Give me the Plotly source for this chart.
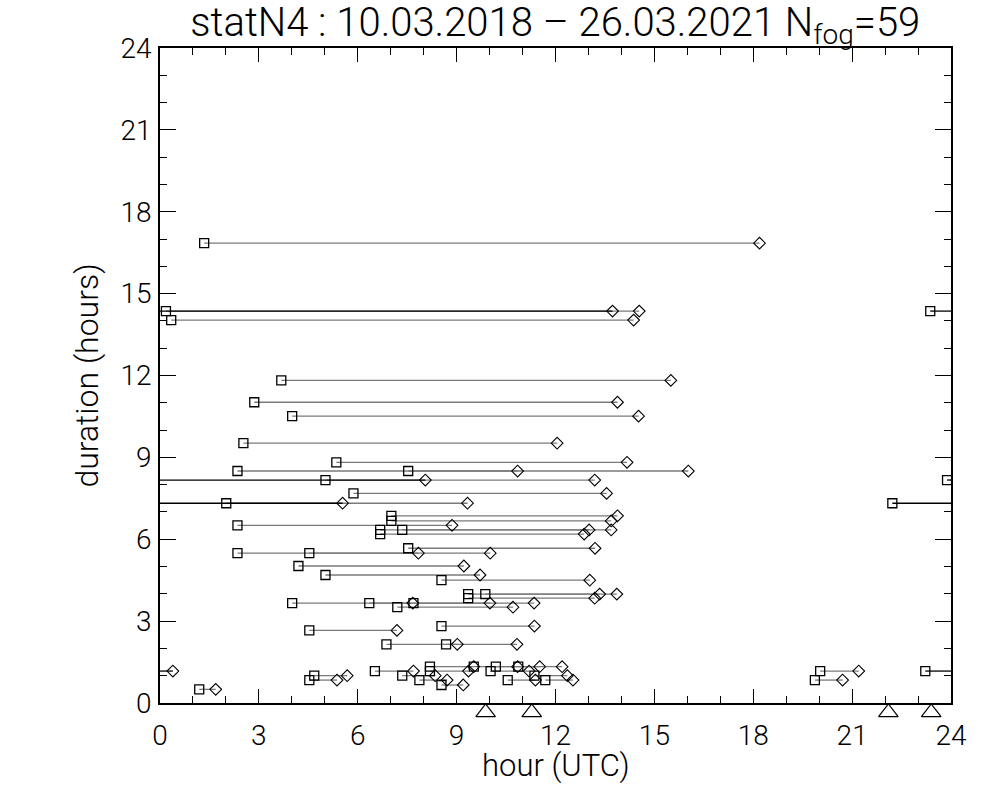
import plotly.graph_objects as go

# fog events: start hour (UTC) and duration (hours)
start = [1.34, 0.18, 0.34, 23.37, 3.68, 2.86, 4.01, 2.53, 5.35, 2.35,
         7.53, 5.02, 23.88, 5.87, 2.01, 22.22, 7.02, 7.02, 2.35, 6.68,
         7.35, 6.68, 7.53, 2.35, 4.53, 4.20, 5.02, 8.54, 9.35, 9.87,
         9.35, 4.01, 6.35, 7.69, 7.20, 8.54, 4.53, 6.87, 8.68, 8.19,
         9.52, 10.19, 10.87, 6.52, 8.19, 10.03, 20.03, 23.22, 4.68, 7.35,
         11.36, 4.53, 7.87, 10.55, 11.69, 19.87, 8.54, 1.19]
duration = [16.85, 14.36, 14.03, 14.36, 11.82, 11.02, 10.51, 9.52, 8.82, 8.50,
            8.50, 8.17, 8.17, 7.68, 7.32, 7.32, 6.86, 6.67, 6.51, 6.34,
            6.34, 6.19, 5.67, 5.49, 5.49, 5.02, 4.69, 4.50, 3.99, 3.99,
            3.84, 3.66, 3.66, 3.66, 3.51, 2.82, 2.66, 2.15, 2.15, 1.33,
            1.33, 1.33, 1.33, 1.17, 1.17, 1.17, 1.17, 1.17, 1.00, 1.00,
            1.00, 0.84, 0.84, 0.84, 0.84, 0.84, 0.66, 0.50]
# reference hours marked below the axis
marks = [9.88, 11.28, 22.1, 23.4]

title = "statN4 : 10.03.2018 \u2013 26.03.2021 N<sub>fog</sub>=59"
xtitle = "hour (UTC)"
ytitle = "duration (hours)"

end = [(s + d) % 24 for s, d in zip(start, duration)]

gx, gy, bx, by = [], [], [], []
for s, d, e in zip(start, duration, end):
    if s + d <= 24:
        gx += [s, s + d, None]
        gy += [d, d, None]
    else:
        bx += [s, 24, None, 0, e, None]
        by += [d, d, None, d, d, None]

fig = go.Figure()
fig.add_trace(go.Scatter(x=gx, y=gy, mode="lines",
                         line=dict(color="#7a7a7a", width=1.3), hoverinfo="skip"))
fig.add_trace(go.Scatter(x=bx, y=by, mode="lines",
                         line=dict(color="black", width=1.3), hoverinfo="skip"))
fig.add_trace(go.Scatter(x=start, y=duration, mode="markers",
                         marker=dict(symbol="square-open", size=9, color="black",
                                     line=dict(width=1.3, color="black"))))
fig.add_trace(go.Scatter(x=end, y=duration, mode="markers",
                         marker=dict(symbol="diamond-open", size=9, color="black",
                                     line=dict(width=1.1, color="black"))))
# triangles in a thin strip just below the main axis
fig.add_trace(go.Scatter(x=marks, y=[0.65] * len(marks), mode="markers",
                         xaxis="x", yaxis="y2", cliponaxis=False,
                         marker=dict(symbol="triangle-up-open", size=17, color="black",
                                     line=dict(width=1.2, color="black"))))

font_fam = "Roboto, Liberation Sans, sans-serif"

plot_top, plot_bottom, axis_y = 48, 730, 703
dom0 = (plot_bottom - axis_y) / (plot_bottom - plot_top)

fig.update_layout(
    width=1000, height=800,
    margin=dict(l=160, r=49, t=plot_top, b=800 - plot_bottom, autoexpand=False),
    paper_bgcolor="white", plot_bgcolor="white",
    showlegend=False,
    font=dict(family=font_fam, size=28, color="black", weight=300),
    title=dict(text=title, x=0.5553, xanchor="center", y=0.973, yanchor="middle",
               xref="container", yref="container",
               font=dict(family=font_fam, size=40, color="black", weight=300)),
    yaxis2=dict(domain=[0, dom0], range=[0, 1], visible=False, anchor="x",
                fixedrange=True),
    annotations=[dict(text=xtitle, xref="paper", yref="paper", x=0.5,
                      y=-(765 - plot_bottom) / (plot_bottom - plot_top),
                      xanchor="center", yanchor="middle", showarrow=False,
                      font=dict(size=31))],
)
axis_common = dict(
    range=[0, 24], tickmode="array", tickvals=list(range(0, 25, 3)),
    ticks="inside", tickcolor="black", tickwidth=1.2,
    showline=True, linecolor="black", linewidth=1.5, mirror="ticks",
    showgrid=False, zeroline=False, automargin=False,
    minor=dict(dtick=1, ticks="inside", ticklen=7, tickcolor="black",
               tickwidth=1.2, showgrid=False),
)
fig.update_xaxes(**axis_common, ticklen=14, ticklabelstandoff=7, anchor="y")
fig.update_yaxes(**axis_common, ticklen=16, ticklabelstandoff=1,
                 title=dict(text=ytitle, standoff=12, font=dict(size=32)),
                 selector=dict(domain=None))
fig.layout.yaxis.domain = [dom0, 1]
fig.layout.yaxis2.visible = False

fig.write_html("out.html", config={"displayModeBar": False},
               post_script="document.body.style.margin='0';")
